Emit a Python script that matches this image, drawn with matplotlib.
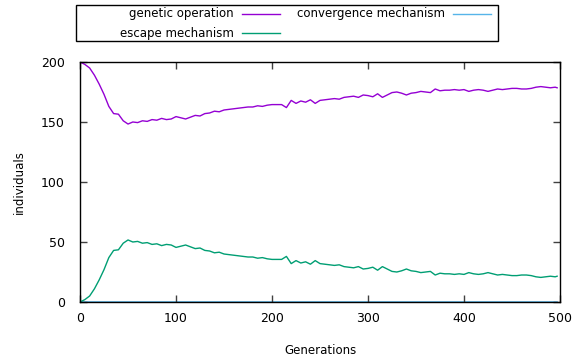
import matplotlib
matplotlib.use("Agg")
import matplotlib.pyplot as plt
from matplotlib.lines import Line2D
from matplotlib.patches import Rectangle

plt.rcParams['font.family'] = ['DejaVu Sans']

generations = [0, 5, 10, 15, 20, 25, 30, 35, 40, 45,
               50, 55, 60, 65, 70, 75, 80, 85, 90, 95,
               100, 105, 110, 115, 120, 125, 130, 135, 140, 145,
               150, 155, 160, 165, 170, 175, 180, 185, 190, 195,
               200, 205, 210, 215, 220, 225, 230, 235, 240, 245,
               250, 255, 260, 265, 270, 275, 280, 285, 290, 295,
               300, 305, 310, 315, 320, 325, 330, 335, 340, 345,
               350, 355, 360, 365, 370, 375, 380, 385, 390, 395,
               400, 405, 410, 415, 420, 425, 430, 435, 440, 445,
               450, 455, 460, 465, 470, 475, 480, 485, 490, 495, 497]

genetic = [200, 198, 195, 189, 181.5, 173, 163, 157, 156.5, 151,
           148.3, 150, 149.5, 151, 150.5, 152, 151.5, 153, 152, 152.5,
           154.5, 153.5, 152.5, 154, 155.5, 155, 157, 157.5, 159, 158.5,
           160, 160.5, 161, 161.5, 162, 162.5, 162.5, 163.5, 163, 164,
           164.5, 164.5, 164.5, 162, 168, 165.5, 167.5, 166.5, 168.5, 165.5,
           168, 168.5, 169, 169.5, 169, 170.5, 171, 171.5, 170.5, 172.5,
           172, 171, 173.5, 170.5, 172.5, 174.5, 175, 174, 172.5, 174,
           174.5, 175.5, 175, 174.5, 177.5, 176, 176.5, 176.5, 177, 176.5,
           177, 175.5, 176.5, 177, 176.5, 175.5, 176.5, 177.5, 177, 177.5,
           178, 178, 177.5, 177.5, 178, 179, 179.5, 179, 178.5, 179, 178.5]

escape = [0, 2, 5, 11, 18.5, 27, 37, 43, 43.5, 49,
          51.7, 50, 50.5, 49, 49.5, 48, 48.5, 47, 48, 47.5,
          45.5, 46.5, 47.5, 46, 44.5, 45, 43, 42.5, 41, 41.5,
          40, 39.5, 39, 38.5, 38, 37.5, 37.5, 36.5, 37, 36,
          35.5, 35.5, 35.5, 38, 32, 34.5, 32.5, 33.5, 31.5, 34.5,
          32, 31.5, 31, 30.5, 31, 29.5, 29, 28.5, 29.5, 27.5,
          28, 29, 26.5, 29.5, 27.5, 25.5, 25, 26, 27.5, 26,
          25.5, 24.5, 25, 25.5, 22.5, 24, 23.5, 23.5, 23, 23.5,
          23, 24.5, 23.5, 23, 23.5, 24.5, 23.5, 22.5, 23, 22.5,
          22, 22, 22.5, 22.5, 22, 21, 20.5, 21, 21.5, 21, 21.5]

convergence = [0] * len(generations)

names = ['genetic operation', 'escape mechanism', 'convergence mechanism']
colors = ['#9400d3', '#009e73', '#56b4e9']

fig = plt.figure(figsize=(5.82, 3.61), dpi=100)
ax = fig.add_axes([0.1375, 0.1634, 0.8247, 0.6649])

ax.plot(generations, genetic, color=colors[0], lw=1)
ax.plot(generations, escape, color=colors[1], lw=1)
ax.plot(generations, convergence, color=colors[2], lw=1.2, zorder=1)

ax.set_xlim(0, 500)
ax.set_ylim(0, 200)
ax.set_xticks([0, 100, 200, 300, 400, 500])
ax.set_yticks([0, 50, 100, 150, 200])
ax.tick_params(direction='in', length=5, width=1, color='#404040',
               top=True, right=True, labelsize=9)
ax.tick_params(axis='y', pad=11)
ax.tick_params(axis='x', pad=7)
for s in ax.spines.values():
    s.set_linewidth(1)
ax.set_xlabel('Generations', fontsize=8.5, labelpad=14)
ax.set_ylabel('individuals', fontsize=8.5, labelpad=11)

# legend box, gnuplot style: label right aligned, sample after it
W, H = 582, 361
fig.add_artist(Rectangle((76 / W, 1 - 41 / H), 422 / W, 36 / H,
                         transform=fig.transFigure, fill=False,
                         edgecolor='black', lw=1))
slots = [(234, 14), (234, 33), (445, 14)]
for (xr, yr), name, c in zip(slots, names, colors):
    fig.text(xr / W, 1 - yr / H, name, ha='right', va='center', fontsize=8.5)
    fig.add_artist(Line2D([(xr + 8) / W, (xr + 46) / W], [1 - yr / H, 1 - yr / H],
                          transform=fig.transFigure, color=c, lw=1))

fig.savefig('out.png', dpi=100)
